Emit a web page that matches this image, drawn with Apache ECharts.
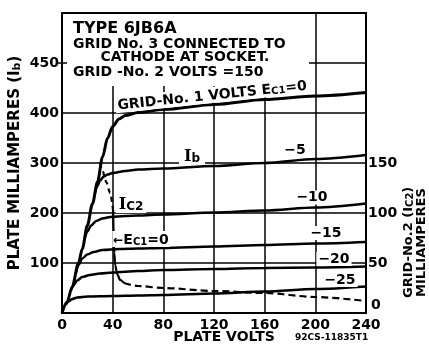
<!DOCTYPE html>
<html>
<head>
<meta charset="utf-8">
<script src="https://cdn.jsdelivr.net/npm/echarts@6/dist/echarts.min.js"></script>
<style>
  html, body { margin: 0; padding: 0; background: #fff; }
  #chart { width: 429px; height: 346px; }
</style>
</head>
<body>
<div id="chart"></div>
<script>
// Axis ticks
const voltTicks = [0, 40, 80, 120, 160, 200, 240];
const plateTickValues = [100, 200, 300, 400, 500];
const plateTickText = ['100', '200', '300', '400', '450'];
const screenTickValues = [0, 50, 100, 150];

// Plate current (mA) vs plate volts, one pair of arrays per grid-No.1 voltage
const volts0 = [0, 4, 8, 13, 16, 20, 24, 28, 32, 36, 40, 45, 50, 60, 80, 120, 160, 200, 240];
const plateMa0 = [0, 22, 52, 100, 128, 175, 218, 262, 312, 350, 373, 388, 395, 401, 407, 417, 427, 434, 441];

const volts5 = [26, 28, 30, 33, 36, 40, 50, 60, 80, 120, 160, 200, 240];
const plateMa5 = [240, 254, 265, 273, 277, 280, 284, 287, 289, 294, 300, 308, 316];

const volts10 = [18, 20, 23, 27, 32, 38, 50, 60, 80, 120, 160, 200, 240];
const plateMa10 = [150, 163, 175, 184, 189, 192, 194, 195, 197, 201, 205, 211, 219];

const volts15 = [11, 13, 16, 20, 25, 32, 45, 60, 80, 120, 160, 200, 240];
const plateMa15 = [80, 96, 109, 117, 122, 126, 128, 129, 130, 133, 136, 139, 142];

const volts20 = [7, 9, 12, 16, 22, 30, 40, 60, 80, 120, 160, 200, 240];
const plateMa20 = [45, 55, 65, 72, 76, 79, 81, 84, 86, 88, 90, 91, 93];

const volts25 = [3, 5, 8, 12, 20, 40, 60, 80, 120, 160, 200, 240];
const plateMa25 = [16, 23, 28, 31, 33, 34, 35, 36, 39, 43, 48, 53];

// Grid-No.2 current (mA) at Ec1 = 0, in three drawn segments
const screenVoltsA = [30, 32, 35, 38, 40.3];
const screenMaA = [150, 142, 131, 120, 103];
const screenVoltsB = [40.3, 40.8, 41.3, 42, 43.5, 46, 49];
const screenMaB = [103, 80, 60, 48, 39, 33, 30];
const screenVoltsC = [49, 60, 80, 120, 160, 200, 240];
const screenMaC = [30, 27, 25, 22, 20, 16, 12];

const FONT = "'DejaVu Sans', sans-serif";
const SERIF = "'DejaVu Serif', serif";

function pairs(xs, ys) { return xs.map((x, i) => [x, ys[i]]); }

function plateSeries(xs, ys, width) {
  return {
    type: 'line', yAxisIndex: 0, data: pairs(xs, ys),
    showSymbol: false, smooth: 0.3, smoothMonotone: 'x',
    lineStyle: { color: '#000', width: width }, z: 3
  };
}
function screenSeries(xs, ys, type) {
  return {
    type: 'line', yAxisIndex: 1, data: pairs(xs, ys),
    showSymbol: false, smooth: 0.3, smoothMonotone: 'x',
    lineStyle: { color: '#000', width: 2.2, type: type }, z: 3
  };
}

const chart = echarts.init(document.getElementById('chart'), null, { renderer: 'canvas' });

// rich-text token styles: normal letters and lowered subscripts
const main = (size, fam) => ({ font: 'bold ' + size + 'px ' + (fam || FONT), fill: '#000', verticalAlign: 'bottom', lineHeight: 16 });
const sub = (size) => ({ font: 'bold ' + size + 'px ' + FONT, fill: '#000', verticalAlign: 'bottom', lineHeight: 6 });

function label(x, y, text) {
  return {
    type: 'text', x: x, y: y, z: 60,
    style: {
      text: text, font: 'bold 14px ' + FONT, fill: '#000',
      align: 'center', verticalAlign: 'middle',
      backgroundColor: '#fff', padding: [0, 2]
    }
  };
}

chart.setOption({
  animation: false,
  backgroundColor: '#fff',
  grid: {
    left: 62, right: 63, top: 13, bottom: 33, outerBoundsMode: 'none', containLabel: false,
    show: true, borderColor: '#000', borderWidth: 2
  },
  xAxis: {
    type: 'value', min: 0, max: 240, interval: 40,
    axisLine: { lineStyle: { color: '#000', width: 2 } },
    axisTick: { show: false },
    axisLabel: {
      color: '#000', fontFamily: FONT, fontWeight: 'bold', fontSize: 14, margin: 5,
      formatter: (v) => voltTicks.indexOf(v) >= 0 ? String(v) : ''
    },
    splitLine: { show: true, lineStyle: { color: '#000', width: 1.5 } },
    name: 'PLATE VOLTS', nameLocation: 'middle', nameGap: 17, nameMoveOverlap: false,
    nameTextStyle: { color: '#000', fontFamily: FONT, fontWeight: 'bold', fontSize: 14, padding: [0, 0, 0, 20] }
  },
  yAxis: [
    {
      type: 'value', min: 0, max: 600, interval: 100,
      axisLine: { show: true, lineStyle: { color: '#000', width: 2 } },
      axisTick: { show: false },
      axisLabel: {
        color: '#000', fontFamily: FONT, fontWeight: 'bold', fontSize: 14, margin: 3,
        formatter: (v) => { const i = plateTickValues.indexOf(v); return i < 0 ? '' : plateTickText[i]; }
      },
      splitLine: { show: true, lineStyle: { color: '#000', width: 1.5 } },
      name: '{m|PLATE MILLIAMPERES (I}{s|b}{m|)}', nameLocation: 'middle', nameGap: 39, nameMoveOverlap: false,
      nameTextStyle: {
        rich: {
          m: { fontFamily: FONT, fontWeight: 'bold', fontSize: 15, color: '#000', verticalAlign: 'bottom', lineHeight: 18 },
          s: { fontFamily: FONT, fontWeight: 'bold', fontSize: 11, color: '#000', verticalAlign: 'bottom', lineHeight: 7 }
        }
      }
    },
    {
      type: 'value', min: 0, max: 300, interval: 50, position: 'right',
      axisLine: { show: true, lineStyle: { color: '#000', width: 2 } },
      axisTick: { show: false },
      axisLabel: {
        color: '#000', fontFamily: FONT, fontWeight: 'bold', fontSize: 14, margin: 2,
        formatter: (v) => screenTickValues.indexOf(v) < 0 ? '' : (v === 0 ? '{z|0}' : String(v)),
        rich: { z: { fontFamily: FONT, fontWeight: 'bold', fontSize: 14, color: '#000', padding: [0, 0, 16, 3] } }
      },
      splitLine: { show: false }
    }
  ],
  series: [
    plateSeries(volts0, plateMa0, 3),
    plateSeries(volts5, plateMa5, 2.5),
    plateSeries(volts10, plateMa10, 2.5),
    plateSeries(volts15, plateMa15, 2.5),
    plateSeries(volts20, plateMa20, 2.5),
    plateSeries(volts25, plateMa25, 2.5),
    screenSeries(screenVoltsA, screenMaA, [5, 4]),
    screenSeries(screenVoltsB, screenMaB, 'solid'),
    screenSeries(screenVoltsC, screenMaC, [7, 4])
  ],
  graphic: [
    // tube data box in the upper-left corner of the plot
    { type: 'rect', z: 50, shape: { x: 63, y: 14, width: 246, height: 72 }, style: { fill: '#fff' } },
    { type: 'text', z: 55, x: 73, y: 28.5, style: { text: 'TYPE 6JB6A', font: 'bold 16px ' + FONT, fill: '#000', align: 'left', verticalAlign: 'middle' } },
    { type: 'text', z: 55, x: 73, y: 44, style: { text: 'GRID No. 3 CONNECTED TO', font: 'bold 14px ' + FONT, fill: '#000', align: 'left', verticalAlign: 'middle' } },
    { type: 'text', z: 55, x: 185, y: 57.5, style: { text: 'CATHODE AT SOCKET.', font: 'bold 14px ' + FONT, fill: '#000', align: 'center', verticalAlign: 'middle' } },
    { type: 'text', z: 55, x: 73, y: 72.5, style: { text: 'GRID -No. 2 VOLTS =150', font: 'bold 14px ' + FONT, fill: '#000', align: 'left', verticalAlign: 'middle' } },
    // small tick beside the top scale mark
    { type: 'line', z: 55, shape: { x1: 58, y1: 63, x2: 67, y2: 63 }, style: { stroke: '#000', lineWidth: 1.5 } },

    // curve labels
    {
      type: 'text', z: 60, x: 212, y: 95, rotation: 0.105,
      style: {
        text: '{m|GRID-No. 1 VOLTS E}{s|C1}{m|=0}',
        align: 'center', verticalAlign: 'middle', backgroundColor: '#fff', padding: [0, 2],
        rich: { m: main(14), s: sub(10) }
      }
    },
    {
      type: 'text', z: 60, x: 192, y: 157,
      style: { text: '{m|I}{s|b}', align: 'center', verticalAlign: 'middle', backgroundColor: '#fff', padding: [0, 5], rich: { m: main(16, SERIF), s: sub(12) } }
    },
    label(295, 150, '\u22125'),
    label(312, 197.5, '\u221210'),
    label(326, 233, '\u221215'),
    label(334, 259, '\u221220'),
    label(340, 280, '\u221225'),
    {
      type: 'text', z: 60, x: 131, y: 205,
      style: { text: '{m|I}{s|C2}', align: 'center', verticalAlign: 'middle', backgroundColor: '#fff', padding: [0, 3], rich: { m: main(16, SERIF), s: sub(12) } }
    },
    {
      type: 'text', z: 60, x: 141, y: 239,
      style: { text: '{a|\u2190}{m|E}{s|C1}{m|=0}', align: 'center', verticalAlign: 'middle', backgroundColor: '#fff', padding: [0, 1], rich: { a: main(12), m: main(14), s: sub(10) } }
    },

    // right-hand axis title
    {
      type: 'text', z: 55, x: 407, y: 298, rotation: Math.PI / 2,
      style: { text: '{m|GRID-No.2 (I}{s|C2}{m|)}', align: 'left', verticalAlign: 'middle', rich: { m: main(13), s: sub(10) } }
    },
    {
      type: 'text', z: 55, x: 422, y: 297, rotation: Math.PI / 2,
      style: { text: 'MILLIAMPERES', font: 'bold 13px ' + FONT, fill: '#000', align: 'left', verticalAlign: 'middle' }
    },
    { type: 'text', z: 55, x: 295, y: 338, style: { text: '92CS-11835T1', font: 'bold 9px ' + FONT, fill: '#000', align: 'left', verticalAlign: 'middle' } }
  ]
});
</script>
</body>
</html>
